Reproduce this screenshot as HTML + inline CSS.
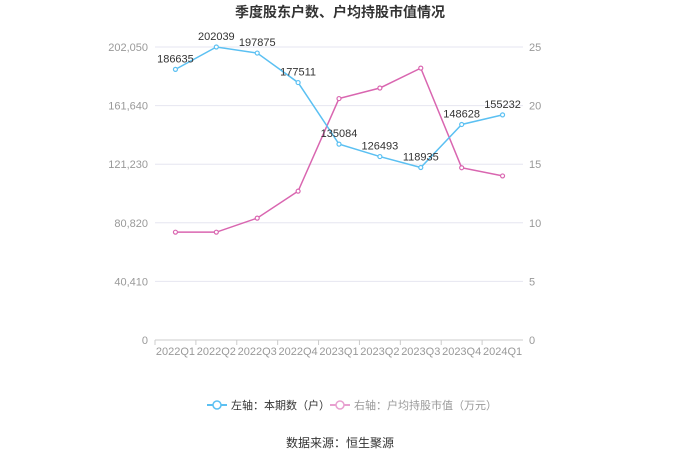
<!DOCTYPE html>
<html><head><meta charset="utf-8"><style>
body{margin:0;background:#fff;font-family:"Liberation Sans","Noto Sans CJK SC",sans-serif;}
</style></head><body>
<svg id="chart" width="680" height="460" xmlns="http://www.w3.org/2000/svg" font-family="Liberation Sans, Noto Sans CJK SC, sans-serif">
<text x="340" y="17" text-anchor="middle" font-size="14" font-weight="bold" fill="#333">季度股东户数、户均持股市值情况</text>
<g id="grid"></g><g id="axes"></g><g id="series"></g>
<g>
<g><line x1="207" y1="405" x2="227" y2="405" stroke="#5bc0f2" stroke-width="2"/><circle cx="217" cy="405" r="4" fill="#fff" stroke="#5bc0f2" stroke-width="1.5"/><text x="231" y="409" font-size="11" fill="#333">左轴：本期数（户）</text></g>
<g><line x1="330" y1="405" x2="350" y2="405" stroke="#e8a0d0" stroke-width="2"/><circle cx="340" cy="405" r="4" fill="#fff" stroke="#e8a0d0" stroke-width="1.5"/><text x="354" y="409" font-size="11" fill="#999">右轴：户均持股市值（万元）</text></g>
</g>
<text x="340" y="447" text-anchor="middle" font-size="12" fill="#333">数据来源：恒生聚源</text>
</svg>
<script>
const categories=["2022Q1","2022Q2","2022Q3","2022Q4","2023Q1","2023Q2","2023Q3","2023Q4","2024Q1"];
const holders=[186635,202039,197875,177511,135084,126493,118935,148628,155232];
const avgValue=[9.2,9.2,10.4,12.7,20.6,21.5,23.2,14.7,14.0];
const leftTicks=[0,40410,80820,121230,161640,202050];
const leftTickLabels=["0","40,410","80,820","121,230","161,640","202,050"];
const rightTicks=[0,5,10,15,20,25];
const NS="http://www.w3.org/2000/svg";
const X0=155,X1=523,Y0=340,Y1=47;
const band=(X1-X0)/categories.length;
const xAt=i=>X0+band*(i+0.5);
const yL=v=>Y0-(v/202050)*(Y0-Y1);
const yR=v=>Y0-(v/25)*(Y0-Y1);
function mk(tag,attrs,parent,text){const e=document.createElementNS(NS,tag);for(const k in attrs)e.setAttribute(k,attrs[k]);if(text!=null)e.textContent=text;parent.appendChild(e);return e;}
const grid=document.getElementById('grid'),axes=document.getElementById('axes'),ser=document.getElementById('series');
leftTicks.forEach((t,i)=>{
 const y=yL(t);
 const l=mk('line',{x1:X0,x2:X1,y1:y,y2:y,stroke:i===0?'#ccc':'#e6e6f0','stroke-width':1},grid);
 
 
 const tx=mk('text',{x:X0-7,y:y+4,'text-anchor':'end','font-size':11,fill:'#999'},axes,leftTickLabels[i]);
 
 
});
rightTicks.forEach(t=>{
 const tx=mk('text',{x:X1+6,y:yR(t)+4,'font-size':11,fill:'#999'},axes,String(t));
 
 
});
categories.forEach((c,i)=>{
 const tk=mk('line',{x1:X0+band*i,x2:X0+band*i,y1:Y0,y2:Y0+5,stroke:'#ccc'},axes);
 
 
 const tx=mk('text',{x:xAt(i),y:Y0+15,'text-anchor':'middle','font-size':11,fill:'#999'},axes,c);
 
 
});
const pR=mk('polyline',{points:avgValue.map((v,i)=>xAt(i)+','+yR(v)).join(' '),fill:'none',stroke:'#d966b0','stroke-width':1.5},ser);


const pL=mk('polyline',{points:holders.map((v,i)=>xAt(i)+','+yL(v)).join(' '),fill:'none',stroke:'#5bc0f2','stroke-width':1.5},ser);


avgValue.forEach((v,i)=>{
 const c=mk('circle',{cx:xAt(i),cy:yR(v),r:2,fill:'#fff',stroke:'#d966b0','stroke-width':1.2},ser);
 
 
});
holders.forEach((v,i)=>{
 const c=mk('circle',{cx:xAt(i),cy:yL(v),r:2,fill:'#fff',stroke:'#5bc0f2','stroke-width':1.2},ser);
 
 
 const t=mk('text',{x:xAt(i),y:yL(v)-7,'text-anchor':'middle','font-size':11,fill:'#333'},ser,String(v));
 
 
});
</script>
</body></html>
